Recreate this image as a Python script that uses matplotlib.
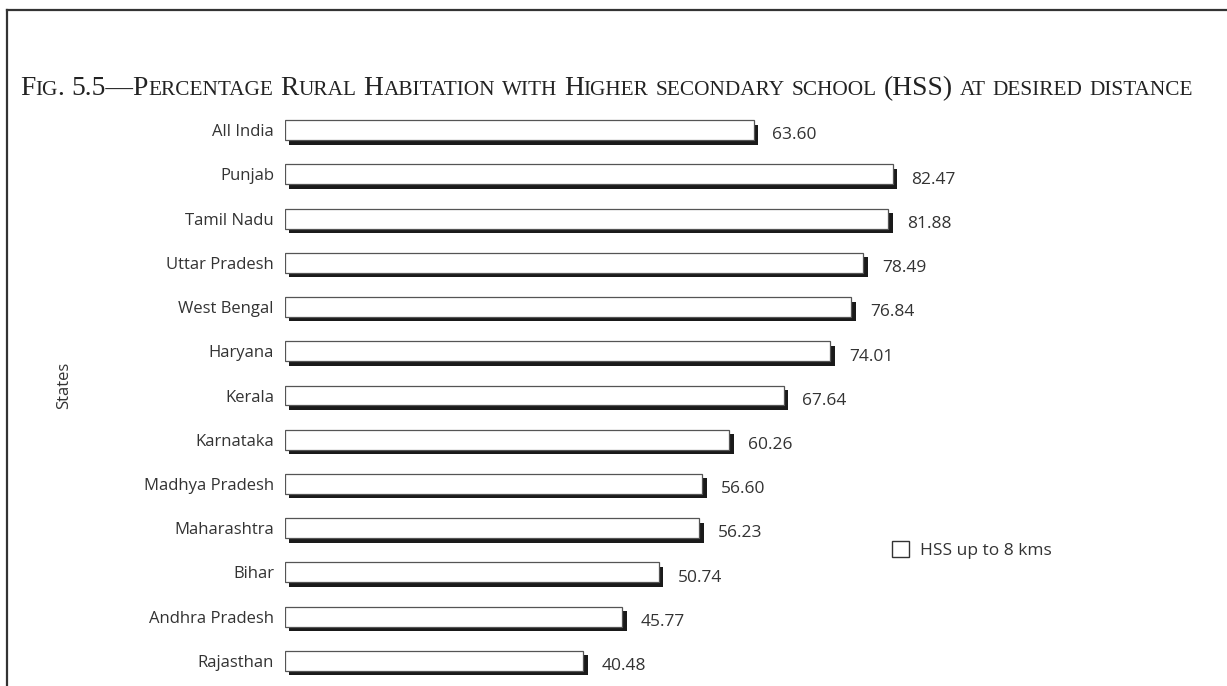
import matplotlib
matplotlib.use("Agg")
import matplotlib.pyplot as plt
import matplotlib.patheffects as pe
from matplotlib.patches import Patch
from matplotlib.lines import Line2D

# share of rural habitations with a higher secondary school within reach
states = ['All India', 'Punjab', 'Tamil Nadu', 'Uttar Pradesh', 'West Bengal',
          'Haryana', 'Kerala', 'Karnataka', 'Madhya Pradesh', 'Maharashtra',
          'Bihar', 'Andhra Pradesh', 'Rajasthan']
hss_pct = [63.60, 82.47, 81.88, 78.49, 76.84, 74.01, 67.64, 60.26, 56.60,
           56.23, 50.74, 45.77, 40.48]
series_name = 'HSS up to 8 kms'
title = 'Fig. 5.5\u2014Percentage Rural Habitation with Higher secondary school (HSS) at desired distance'

W, H = 1227, 686
fig = plt.figure(figsize=(W / 100, H / 100), dpi=100)
plt.rcParams['font.family'] = ['Open Sans', 'DejaVu Sans']
txt_color = '#333333'

# axes: x=0 at 285px, 7.37 px per unit; rows ~44px apart from y=130
ax_left, ax_right = 285, 1100
ax_top, ax_bot = 108, 683
ax = fig.add_axes([ax_left / W, 1 - ax_bot / H, (ax_right - ax_left) / W, (ax_bot - ax_top) / H])
ax.set_xlim(0, (ax_right - ax_left) / 7.37)
ax.set_ylim(len(states) - 0.5, -0.5)

ypos = list(range(len(states)))
shadow = [pe.SimplePatchShadow(offset=(3.2, -3.2), shadow_rgbFace='#1a1a1a', alpha=1.0), pe.Normal()]
bars = ax.barh(ypos, hss_pct, height=0.45, color='white', edgecolor='#555555', linewidth=0.9)
for b in bars:
    b.set_path_effects(shadow)

for y, v in zip(ypos, hss_pct):
    ax.annotate('%.2f' % v, (v, y), xytext=(13.5, -3.8), textcoords='offset points',
                ha='left', va='center', fontsize=12.5, color=txt_color)

ax.set_yticks(ypos)
ax.set_yticklabels(states, fontsize=12, color=txt_color)
ax.tick_params(axis='y', length=0, pad=8)
ax.set_xticks([])
for s in ax.spines.values():
    s.set_visible(False)

ax.set_ylabel('States', fontsize=12, color=txt_color)
ax.yaxis.set_label_coords((72 - ax_left) / (ax_right - ax_left), 1 - (385 - ax_top) / (ax_bot - ax_top))

leg = fig.legend([Patch(facecolor='white', edgecolor='#333333', linewidth=1.0)], [series_name],
                 loc='center left', bbox_to_anchor=(892 / W, 1 - 550 / H), frameon=False,
                 fontsize=12.5, handlelength=1.0, handleheight=1.0, handletextpad=0.6,
                 borderpad=0, borderaxespad=0)
for t in leg.get_texts():
    t.set_color(txt_color)

# frame lines
fig.add_artist(Line2D([7 / W, 7 / W], [0, 1 - 10 / H], color='#333333', lw=1.6))
fig.add_artist(Line2D([7 / W, 1], [1 - 10 / H, 1 - 10 / H], color='#333333', lw=1.6))

# small-caps title built from pieces
renderer = fig.canvas.get_renderer()
big, small = 19.8, 15.3
x = 20
base = 1 - 95 / H
tfont = 'Liberation Serif'
for wi, word in enumerate(title.split(' ')):
    if wi:
        x += big * 1.39 * 0.25
    runs = []
    for ch in word:
        is_small = ch.islower()
        if runs and runs[-1][1] == is_small:
            runs[-1][0] += ch
        else:
            runs.append([ch, is_small])
    for txt, is_small in runs:
        t = fig.text(x / W, base, txt.upper() if is_small else txt,
                     fontsize=small if is_small else big, family=tfont,
                     color='#222222', va='baseline', ha='left')
        x += t.get_window_extent(renderer).width

fig.savefig('out.png', dpi=100)
